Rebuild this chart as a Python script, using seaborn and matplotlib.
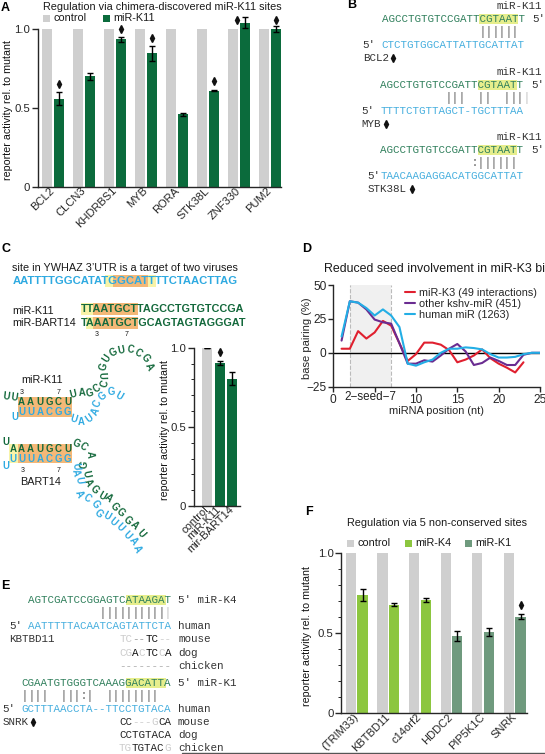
import numpy as np
import pandas as pd
import matplotlib
matplotlib.use("Agg")
import matplotlib.pyplot as plt
from matplotlib.patches import Rectangle
import seaborn as sns

W, H = 545, 754

# panel A
genes_a = ["BCL2", "CLCN3", "KHDRBS1", "MYB", "RORA", "STK38L", "ZNF330", "PUM2"]
control_a = [1, 1, 1, 1, 1, 1, 1, 1]
k11_a = [0.56, 0.70, 0.935, 0.845, 0.46, 0.61, 1.04, 1.0]
k11_err_a = [0.04, 0.02, 0.015, 0.05, 0.01, 0.005, 0.035, 0.02]
sig_y_a = [0.65, None, 1.0, 0.94, None, 0.67, 1.057, 1.057]

# panel C
names_c = ["control", "miR-K11", "mir-BART14"]
vals_c = [1.0, 0.905, 0.805]
errs_c = [0, 0.012, 0.04]

# panel D
positions = list(range(1, 26))
k3 = [3, 3, 16, 10.5, 15, 23.5, 20, 7, -6, -1, 7.5, 7.5, 6, 2, -7, -5, -2, 2.5, -4, -8, -11, -14.5, -7]
kshv = [9, 38, 37, 32, 24.5, 22.5, 21.5, 7, -8, -8, -5.5, -6.5, -2, 3, 6.5, 1, -9, -7.5, -3.5, -6, -9, -9, -1.5, 0, 0]
human = [12, 38, 37, 33, 27.5, 32, 27.5, 19, -8, -9.5, -7, -5, 0, 3, 3, 4, 3.5, 2.5, -1, -3.5, -3.5, -3, -1, 0, 0]

# panel F
genes_f = ["(TRIM33)", "KBTBD11", "c14orf2", "HDDC2", "PIP5K1C", "SNRK"]
control_f = [1, 1, 1, 1, 1, 1]
vals_f = [0.74, 0.68, 0.71, 0.485, 0.51, 0.605]
errs_f = [0.04, 0.01, 0.012, 0.03, 0.025, 0.018]

GREY = "#cfcfcf"
K11 = "#0b6b3c"
K4 = "#8cc63f"
K1 = "#6f9a7e"
SEQ_G = "#2f7f5b"
SEQ_B = "#45aede"
BOLD_G = "#14693c"
BOLD_B = "#2faae1"
YEL = "#e6ee8c"
ORG = "#f4b877"

sns.set_theme(style="ticks")
plt.rcParams["font.family"] = ["Liberation Sans", "DejaVu Sans"]
plt.rcParams["axes.linewidth"] = 1

fig = plt.figure(figsize=(W / 100, H / 100), dpi=100)


def panel(x0, y0, x1, y1):
    return fig.add_axes([x0 / W, 1 - y1 / H, (x1 - x0) / W, (y1 - y0) / H])


def bars(ax, genes, control, treated, errs, colour):
    df = pd.DataFrame({"gene": genes * 2, "activity": list(control) + list(treated),
                       "series": ["control"] * len(genes) + ["treated"] * len(genes)})
    sns.barplot(data=df, x="gene", y="activity", hue="series", palette=[GREY, colour],
                width=0.74, gap=0.13, saturation=1, errorbar=None, legend=False,
                linewidth=0, ax=ax)
    xs = [p.get_x() + p.get_width() / 2 for p in ax.containers[1]]
    ax.errorbar(xs, treated, yerr=errs, fmt="none", ecolor="black", elinewidth=1,
                capsize=2.2, capthick=1, clip_on=False, zorder=5)
    for p in ax.patches:
        p.set_clip_on(False)
    ax.set_ylim(0, 1)
    ax.set_xlabel("")
    ax.set_yticks([0, 0.5, 1], ["0", "0.5", "1.0"])
    sns.despine(ax=ax)
    return xs


def style_bar_axes(ax, minor=True):
    ax.set_ylabel("reporter activity rel. to mutant", fontsize=7.7, color="#111111")
    ax.tick_params(axis="y", labelsize=8.2, length=4, width=1, pad=1.5)
    ax.tick_params(axis="x", labelsize=8, length=0, pad=1.5)
    if minor:
        ax.set_yticks(np.arange(0, 1.01, 0.1), minor=True)
        ax.tick_params(axis="y", which="minor", length=2.5, width=0.7)
    for lab in ax.get_xticklabels():
        lab.set_rotation(45)
        lab.set_ha("right")
        lab.set_va("center")
        lab.set_rotation_mode("anchor")


# A
ax_a = panel(37.5, 29, 281, 187)
xs_a = bars(ax_a, genes_a, control_a, k11_a, k11_err_a, K11)
ax_a.set_xlim(-0.506, 7.35)
style_bar_axes(ax_a, minor=False)
ax_a.yaxis.set_label_coords((13 - 37.5) / 243.5, 0.49)
for i, (x, y) in enumerate(zip(xs_a, sig_y_a)):
    if y is not None:
        dx = -0.26 if genes_a[i] == "ZNF330" else 0
        ax_a.plot(x + dx, y, marker="d", ms=4.2, color="#111111", clip_on=False, zorder=6)

# C bars
ax_c = panel(194, 347.7, 240, 506)
df_c = pd.DataFrame({"name": names_c, "activity": vals_c})
sns.barplot(data=df_c, x="name", y="activity", hue="name", palette=[GREY, K11, K11],
            width=0.8, saturation=1, errorbar=None, legend=False, linewidth=0, ax=ax_c)
ax_c.errorbar(range(3), vals_c, yerr=errs_c, fmt="none", ecolor="black", elinewidth=1,
              capsize=2.2, capthick=1)
ax_c.set_xlim(-1.04, 2.64)
ax_c.set_ylim(0, 1)
ax_c.set_xlabel("")
ax_c.set_yticks([0, 0.5, 1], ["0", "0.5", "1.0"])
sns.despine(ax=ax_c)
style_bar_axes(ax_c)
ax_c.yaxis.set_label_coords((169.5 - 194) / 46, 0.48)
ax_c.plot(1, 0.97, marker="d", ms=4.2, color="#111111")

# D
ax_d = panel(333.3, 285, 540, 386.7)
df_d = pd.concat([
    pd.DataFrame({"pos": positions[:len(k3)], "pairing": k3, "set": "miR-K3 (49 interactions)"}),
    pd.DataFrame({"pos": positions, "pairing": kshv, "set": "other kshv-miR (451)"}),
    pd.DataFrame({"pos": positions, "pairing": human, "set": "human miR (1263)"}),
])
ax_d.axvspan(2, 7, color="#f0f0f0", lw=0, zorder=0)
ax_d.axvline(2, color="#bbbbbb", ls="--", lw=0.8, zorder=1)
ax_d.axvline(7, color="#bbbbbb", ls="--", lw=0.8, zorder=1)
ax_d.axhline(0, color="black", lw=1, zorder=1)
sns.lineplot(data=df_d, x="pos", y="pairing", hue="set",
             palette=["#e0202f", "#6a2c91", "#23aee5"], lw=1.5, errorbar=None, ax=ax_d)
ax_d.set_xlim(0, 25)
ax_d.set_ylim(-25, 50)
ax_d.set_xticks([0, 5, 10, 15, 20, 25], ["0", "", "10", "15", "20", "25"])
ax_d.set_yticks([-25, 0, 25, 50])
ax_d.tick_params(labelsize=8.6, length=3.5, width=1, pad=1.5)
ax_d.set_xlabel("miRNA position (nt)", fontsize=7.9, labelpad=0)
ax_d.set_ylabel("base pairing (%)", fontsize=8)
ax_d.yaxis.set_label_coords((311.7 - 333.3) / 206.7, 0.48)
sns.despine(ax=ax_d)
handles, labels = ax_d.get_legend_handles_labels()
ax_d.legend(handles, labels, frameon=False, fontsize=7.8, loc="upper left",
            bbox_to_anchor=(0.345, 0.97), handlelength=1.0, handletextpad=0.35,
            labelspacing=0.08, borderpad=0, borderaxespad=0)

# F
ax_f = panel(341.3, 553.3, 527.3, 713.3)
xs_f = bars(ax_f, genes_f, control_f, vals_f, errs_f, K4)
for p, c in zip(ax_f.containers[1], [K4, K4, K4, K1, K1, K1]):
    p.set_facecolor(c)
ax_f.set_xlim(-0.487, 5.4)
style_bar_axes(ax_f)
ax_f.yaxis.set_label_coords((312 - 341.3) / 186, 0.48)
ax_f.plot(xs_f[5], 0.68, marker="d", ms=4.2, color="#111111")

# overlay in pixel coordinates for the sequence panels and labels
ov = fig.add_axes([0, 0, 1, 1], zorder=10)
ov.set_xlim(0, W)
ov.set_ylim(H, 0)
ov.axis("off")
ov.patch.set_alpha(0)

CW = 6.49
MONO = dict(family="Liberation Mono", fontsize=7.8, va="center", ha="left")
DARK = "#333333"
PALE = "#cccccc"


def txt(x, y, s, size=7.8, color="#1a1a1a", **kw):
    ov.text(x, y, s, fontsize=size, color=color, va="center", **kw)


def mono(x, y, s, color=DARK):
    ov.text(x, y, s, color=color, **MONO)


def runs(x, y, items):
    for idx, s, color in items:
        mono(x + idx * CW, y, s, color)


def pairs(x, y, s):
    # one mark per base, "!" is a faded pair
    for i, ch in enumerate(s):
        if ch == " ":
            continue
        colour = PALE if ch == "!" else "#777777"
        mark = ":" if ch == ":" else "|"
        ov.text(x + (i + 0.5) * CW, y, mark, color=colour, family="Liberation Mono",
                fontsize=9.5, va="center", ha="center")


def box(x0, y0, x1, y1, color):
    ov.add_patch(Rectangle((x0, y0), x1 - x0, y1 - y0, color=color, lw=0, zorder=0))


def diamond(x, y):
    ov.plot(x, y, marker="d", ms=4, color="#111111")


for s, x, y in [("A", 1, 8), ("B", 347, 5), ("C", 1, 249), ("D", 302, 249), ("E", 1, 586), ("F", 305, 512)]:
    txt(x, y, s, size=9, weight="bold", color="black")

# A title and legend
txt(43, 7, "Regulation via chimera-discovered miR-K11 sites")
box(43, 15, 50, 22, GREY)
txt(53, 18, "control", size=7.8)
box(103, 15, 110, 22, K11)
txt(113, 18, "miR-K11", size=7.8)

# B
MIR_K11 = "AGCCTGTGTCCGATTCGTAATT"
b_rows = [
    (381.7, 0, 362.7, "CTCTGTGGCATTATTGCATTAT", "               ||||||", "BCL2", 393),
    (380.3, 66, 361.5, "TTTTCTGTTAGCT-TGCTTTAA", "          |||  ||  |||!", "MYB", 385.7),
    (380.3, 131, 367.7, "TAACAAGAGGACATGGCATTAT", "              :||||||", "STK38L", 412),
]
for x, dy, x5, target, bp, gene, dx in b_rows:
    ty = dy + 45
    box(x + 15 * CW, dy + 14, x + 21 * CW, dy + 24, YEL)
    ov.text(541.7, dy + 6, "miR-K11", color=DARK, family="Liberation Mono", fontsize=7.8, va="center", ha="right")
    mono(x, dy + 19, MIR_K11, SEQ_G)
    mono(x + 151, dy + 19, "5\u2032")
    pairs(x, dy + 32, bp)
    mono(x5, ty, "5\u2032")
    mono(x, ty, target, SEQ_B)
    mono(x5, dy + 58, gene)
    diamond(dx, dy + 58)

# C texts
txt(12.3, 267.7, "site in YWHAZ 3\u2019UTR is a target of two viruses", size=7.85)
box(105, 275, 156, 287, "#f7f3a8")
box(113, 275, 148, 287, ORG)
txt(12.3, 281, "AATTTTGGCATATGGCATTTTCTAACTTAG", size=8.15, color=BOLD_B, weight="bold")
txt(12.3, 311, "miR-K11")
txt(12.3, 323.3, "miR-BART14")
box(81, 303, 93, 315, "#f7f3a8")
box(93, 303, 138, 315, ORG)
box(86, 317, 93, 329, "#f7f3a8")
box(93, 317, 138, 329, ORG)
txt(81, 309.5, "TTAATGCTTAGCCTGTGTCCGA", size=7.8, color=BOLD_G, weight="bold")
txt(81, 323, "TAAATGCTGCAGTAGTAGGGAT", size=7.8, color=BOLD_G, weight="bold")
txt(97, 334, "3", size=5, ha="center")
txt(127, 334, "7", size=5, ha="center")


def letters(s, pts, color):
    pts = np.array(pts, dtype=float)
    for i, ch in enumerate(s):
        a, b = pts[max(i - 1, 0)], pts[min(i + 1, len(s) - 1)]
        ang = -np.degrees(np.arctan2(b[1] - a[1], b[0] - a[0]))
        if ang < -90 or ang > 90:
            ang += 180
        ov.text(pts[i][0], pts[i][1], ch, fontsize=6.9, weight="bold", color=color,
                rotation=ang, rotation_mode="anchor", ha="center", va="center")


xs_stem = [21.7, 30.7, 40, 49.3, 58.3, 67.7]
# miR-K11 duplex
txt(21, 380, "miR-K11")
txt(22, 392, "3", size=5, ha="center")
txt(58.7, 392, "7", size=5, ha="center")
box(18, 397, 72, 417, ORG)
letters("UU", [(6.5, 396), (14.5, 397)], BOLD_G)
for x, a, b in zip(xs_stem, "AAUGCU", "UUACGG"):
    txt(x, 402, a, size=7, color=BOLD_G, weight="bold", ha="center")
    txt(x, 412, b, size=7, color=BOLD_B, weight="bold", ha="center")
letters("U", [(15, 417.5)], BOLD_B)
k11_top = [(73.3, 394.3), (81.7, 392.3), (89.3, 393.3), (97.3, 389), (104.7, 383.3), (102, 375), (104, 366.7),
           (106.7, 358.3), (113.3, 352.7), (121.7, 350), (130, 349.3), (138.3, 352.7), (145, 358.3), (149.3, 366.7)]
letters("UAGCCUGUGUCCGA", k11_top, BOLD_G)
k11_bot = [(73.3, 419.3), (81.7, 421.7), (89.3, 419), (95.7, 411.7), (97.3, 403.3), (102.7, 396.7), (111.7, 391.7), (119.3, 396)]
letters("UAUACGGU", k11_bot, BOLD_B)

# BART14 duplex
box(9, 444, 18, 463, "#f7f3a8")
box(18, 444, 72, 463, ORG)
letters("U", [(6, 442)], BOLD_G)
letters("U", [(5.5, 466)], BOLD_B)
for x, a, b in zip([13] + xs_stem, "AAAUGCU", "UUUACGG"):
    txt(x, 449.5, a, size=7, color=BOLD_G, weight="bold", ha="center")
    txt(x, 459.5, b, size=7, color=BOLD_B, weight="bold", ha="center")
txt(22.5, 471, "3", size=5, ha="center")
txt(58.7, 471, "7", size=5, ha="center")
txt(20.5, 482, "BART14")
bart_top = [(76.7, 444), (83.3, 446.7), (90, 454), (84, 464.3), (86, 474), (87.7, 482.3), (94.3, 490), (101.7, 496.7),
            (108.3, 498.3), (114, 507.3), (120.7, 512.7), (127.3, 520), (134, 525.7), (140.7, 533.3)]
letters("GCAGUAGUAGGGAU", bart_top, BOLD_G)
bart_bot = [(75.3, 466), (76, 472.7), (79, 480), (79.3, 494), (87.3, 498.3), (95, 504), (98.3, 513.3), (106.7, 516),
            (113.3, 521.7), (120, 527.3), (126.7, 535), (133.3, 540.7), (137.3, 549.3)]
letters("UAUACGGUUUUAA", bart_bot, BOLD_B)

# D extras
txt(324, 269, "Reduced seed involvement in miR-K3 binding", size=8.9)
txt(370.5, 396.5, "2\u2212seed\u22127", size=8.4, ha="center", color="#222222")

# E
box(126, 595, 165.7, 605, YEL)
mono(28.3, 600, "AGTCGATCCGGAGTCATAAGAT", SEQ_G)
mono(178.3, 600, "5\u2032 miR-K4")
pairs(28.3, 613, "           ||||||||||!")
mono(9.3, 626, "5\u2032")
mono(28.3, 626, "AATTTTTACAATCAGTATTCTA", SEQ_B)
mono(178.3, 626, "human")
mono(9.3, 639.3, "KBTBD11")
runs(28.3, 639.3, [(14, "TC", PALE), (16, "--", "#999999"), (18, "TC", "#111111"), (20, "--", PALE)])
mono(178.3, 639.3, "mouse")
runs(28.3, 652.7, [(14, "CG", PALE), (16, "A", "#111111"), (17, "C", PALE), (18, "TC", "#111111"), (20, "C", PALE), (21, "A", "#111111")])
mono(178.3, 652.7, "dog")
runs(28.3, 665.7, [(14, "--------", "#aaaaaa")])
mono(178.3, 665.7, "chicken")

box(126, 677.5, 165.7, 687.5, YEL)
mono(21.7, 682.7, "CGAATGTGGGTCAAAGGACATTA", SEQ_G)
mono(177.7, 682.7, "5\u2032 miR-K1")
pairs(21.7, 696, "||||  |||:|  ||||||||")
mono(2.3, 709, "5\u2032")
mono(21.7, 709, "GCTTTAACCTA--TTCCTGTACA", SEQ_B)
mono(178, 709, "human")
mono(2.3, 721.7, "SNRK")
diamond(33, 721.7)
runs(21.7, 721.7, [(15, "CC", "#222222"), (17, "---", PALE), (20, "G", PALE), (21, "CA", "#222222")])
mono(178, 721.7, "mouse")
runs(21.7, 735, [(15, "CCTGTACA", "#222222")])
mono(178, 735, "dog")
runs(21.7, 748, [(15, "TG", PALE), (17, "TGTAC", "#222222"), (22, "G", PALE)])
mono(178, 748, "chicken")

# F title and legend
txt(347, 523, "Regulation via 5 non-conserved sites")
box(347, 539.5, 353.5, 547, GREY)
txt(357, 543, "control")
box(405, 539.5, 412, 547, K4)
txt(415.7, 543, "miR-K4")
box(465, 539.5, 472, 547, K1)
txt(475.7, 543, "miR-K1")

# rule along the bottom edge
ov.plot([182, 545], [753, 753], color="#555555", lw=1)

fig.savefig("out.png", dpi=100)
